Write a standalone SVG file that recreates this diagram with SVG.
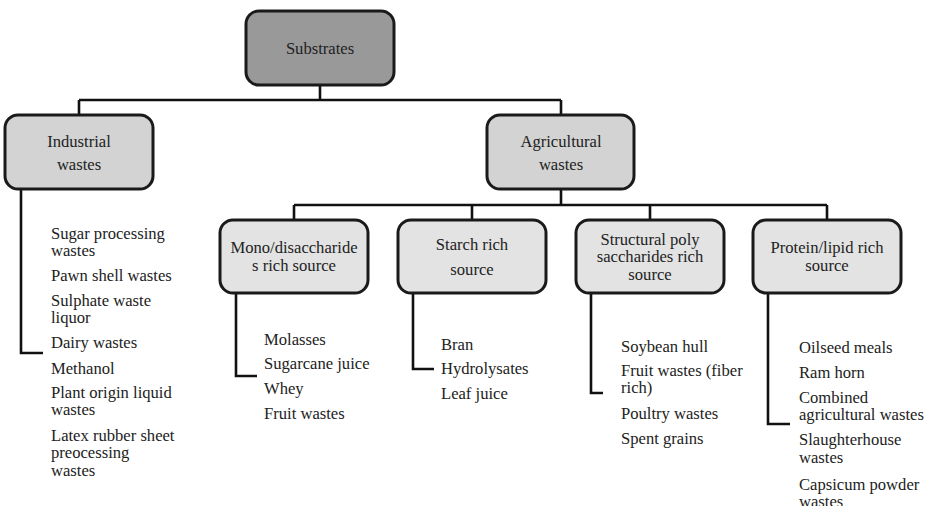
<svg xmlns="http://www.w3.org/2000/svg" width="935" height="506" viewBox="0 0 935 506">
<style>
text{font-family:"Liberation Serif","DejaVu Serif","Times New Roman",serif;font-size:16.6px;fill:#222}
.c{text-anchor:middle}
.box{stroke:#1a1a1a;stroke-width:3}
.l0{fill:#999999}
.l1{fill:#d2d3d2}
.l2{fill:#e3e3e3}
.conn{fill:none;stroke:#111;stroke-width:2.6}
</style>
<rect width="935" height="506" fill="#fff"/>
<g id="connectors" class="conn">
<path d="M320 85V100M79 100H561M79 100V115M561 100V115"/>
<path d="M561 189V205M294 205H827M294 205V220M472 205V220M650 205V220M827 205V220"/>
<path d="M21 189V353H43"/>
<path d="M236 293V376H257"/>
<path d="M413 293V369H434"/>
<path d="M591 293V393H603"/>
<path d="M768 293V424H790"/>
</g>
<g id="substrates">
<rect class="box l0" x="246" y="11" width="148" height="74" rx="13"/>
<text class="c" x="320" y="54">Substrates</text>
</g>
<g id="industrial">
<rect class="box l1" x="5" y="115" width="148" height="74" rx="13"/>
<text class="c" x="79" y="147">Industrial</text>
<text class="c" x="79" y="170">wastes</text>
</g>
<g id="agricultural">
<rect class="box l1" x="487" y="115" width="147" height="74" rx="13"/>
<text class="c" x="561" y="147">Agricultural</text>
<text class="c" x="561" y="170">wastes</text>
</g>
<g id="mono">
<rect class="box l2" x="220" y="220" width="148" height="73" rx="13"/>
<text class="c" x="294" y="253">Mono/disaccharide</text>
<text class="c" x="294" y="271">s rich source</text>
</g>
<g id="starch">
<rect class="box l2" x="398" y="220" width="148" height="73" rx="13"/>
<text class="c" x="472" y="250">Starch rich</text>
<text class="c" x="472" y="275">source</text>
</g>
<g id="structural">
<rect class="box l2" x="576" y="220" width="148" height="73" rx="13"/>
<text class="c" x="650" y="245">Structural poly</text>
<text class="c" x="650" y="262">saccharides rich</text>
<text class="c" x="650" y="280">source</text>
</g>
<g id="protein">
<rect class="box l2" x="753" y="220" width="148" height="73" rx="13"/>
<text class="c" x="827" y="253">Protein/lipid rich</text>
<text class="c" x="827" y="271">source</text>
</g>
<g id="industrial-list">
<text x="51" y="239">Sugar processing</text>
<text x="51" y="256">wastes</text>
<text x="51" y="281">Pawn shell wastes</text>
<text x="51" y="306">Sulphate waste</text>
<text x="51" y="323">liquor</text>
<text x="51" y="348">Dairy wastes</text>
<text x="51" y="374">Methanol</text>
<text x="51" y="398">Plant origin liquid</text>
<text x="51" y="415">wastes</text>
<text x="51" y="441">Latex rubber sheet</text>
<text x="51" y="458">preocessing</text>
<text x="51" y="476">wastes</text>
</g>
<g id="mono-list">
<text x="264" y="345">Molasses</text>
<text x="264" y="369">Sugarcane juice</text>
<text x="264" y="394">Whey</text>
<text x="264" y="419">Fruit wastes</text>
</g>
<g id="starch-list">
<text x="441" y="350">Bran</text>
<text x="441" y="374">Hydrolysates</text>
<text x="441" y="399">Leaf juice</text>
</g>
<g id="structural-list">
<text x="621" y="352">Soybean hull</text>
<text x="621" y="376">Fruit wastes (fiber</text>
<text x="621" y="393">rich)</text>
<text x="621" y="419">Poultry wastes</text>
<text x="621" y="444">Spent grains</text>
</g>
<g id="protein-list">
<text x="799" y="353">Oilseed meals</text>
<text x="799" y="378">Ram horn</text>
<text x="799" y="403">Combined</text>
<text x="799" y="420">agricultural wastes</text>
<text x="799" y="445">Slaughterhouse</text>
<text x="799" y="463">wastes</text>
<text x="799" y="490">Capsicum powder</text>
<text x="799" y="507">wastes</text>
</g>
</svg>
